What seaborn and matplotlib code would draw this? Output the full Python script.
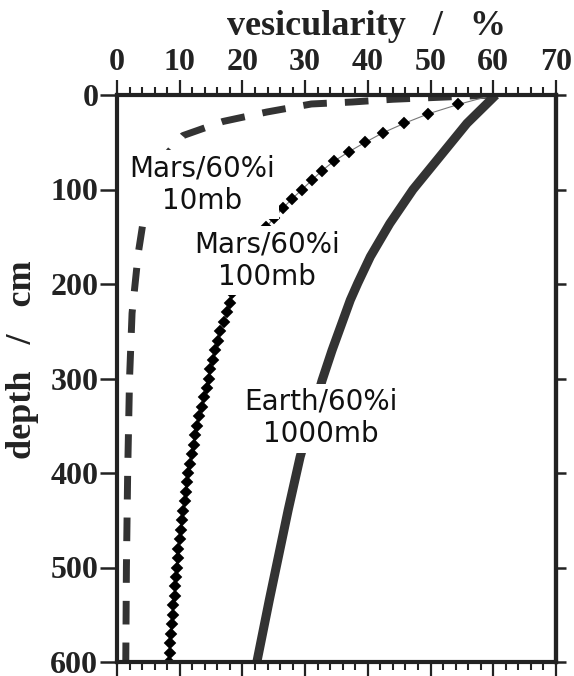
import matplotlib
matplotlib.use("Agg")
import matplotlib.pyplot as plt
import seaborn as sns
import pandas as pd
from matplotlib.ticker import MultipleLocator

# values: depth (cm) vs vesicularity (%)
depth_10mb = [0, 2.6, 4.5, 7.4, 9.5, 18, 28, 43, 70, 120, 167, 231, 300, 400, 500, 600]
vesic_10mb = [60, 50.7, 44, 37.5, 31, 23.9, 16.9, 10.5, 7.0, 4.5, 3.4, 2.4, 2.0, 1.7, 1.5, 1.4]

depth_100mb = [0, 10, 20, 30, 40, 50, 60, 70, 80, 90,
               100, 110, 120, 130, 140, 150, 160, 170, 180, 190,
               200, 210, 220, 230, 240, 250, 260, 270, 280, 290,
               300, 310, 320, 330, 340, 350, 360, 370, 380, 390,
               400, 410, 420, 430, 440, 450, 460, 470, 480, 490,
               500, 510, 520, 530, 540, 550, 560, 570, 580, 590, 600]
vesic_100mb = [60, 54.4, 49.6, 45.8, 42.4, 39.6, 37.0, 34.6, 32.7, 31.1,
               29.5, 27.9, 26.4, 25.0, 23.8, 22.7, 21.7, 20.9, 20.1, 19.4,
               18.8, 18.4, 18.0, 17.5, 17.0, 16.5, 16.1, 15.7, 15.3, 14.9,
               14.6, 14.3, 13.9, 13.5, 13.1, 12.8, 12.5, 12.2, 11.9, 11.7,
               11.4, 11.2, 11.0, 10.8, 10.6, 10.4, 10.2, 10.0, 9.8, 9.7,
               9.5, 9.4, 9.3, 9.2, 9.0, 8.9, 8.8, 8.6, 8.5, 8.4, 8.3]

depth_1000mb = [0, 30, 65, 100, 136, 171, 199, 217, 270, 302, 383, 439, 534, 600]
vesic_1000mb = [60.4, 55.8, 51.5, 47.2, 43.5, 40.4, 38.4, 37.2, 34.3, 32.7, 29.2, 27.3, 24.3, 22.3]

labels = ["Mars/60%i\n10mb", "Mars/60%i\n100mb", "Earth/60%i\n1000mb"]
label_x = [13.6, 23.9, 32.5]
label_y = [95, 175, 342]

sns.set_style("white")
serif = ["Liberation Serif", "DejaVu Serif"]
dark = "#222222"

fig = plt.figure(figsize=(5.74, 6.76), dpi=100)
ax = fig.add_axes([117 / 574, 1 - 662 / 676, (556 - 117) / 574, (662 - 95) / 676])

df10 = pd.DataFrame({"v": vesic_10mb, "d": depth_10mb})
df100 = pd.DataFrame({"v": vesic_100mb, "d": depth_100mb})
df1000 = pd.DataFrame({"v": vesic_1000mb, "d": depth_1000mb})

sns.lineplot(data=df10, x="v", y="d", sort=False, estimator=None, ax=ax,
             color="#333333", lw=5, linestyle=(0, (3.4, 2.6)), solid_capstyle="butt")
sns.lineplot(data=df100, x="v", y="d", sort=False, estimator=None, ax=ax,
             color="#777777", lw=0.8, marker="D", markersize=6.5,
             markerfacecolor="black", markeredgecolor="black", markeredgewidth=0.3)
sns.lineplot(data=df1000, x="v", y="d", sort=False, estimator=None, ax=ax,
             color="#333333", lw=6.5, solid_capstyle="butt")

for txt, x, y in zip(labels, label_x, label_y):
    ax.text(x, y, txt, ha="center", va="center", multialignment="center",
            fontsize=20, family="DejaVu Sans", color="#111111", zorder=5,
            bbox=dict(facecolor="white", edgecolor="none", pad=3))

ax.set_xlim(0, 70)
ax.set_ylim(600, 0)
ax.set_xlabel("")
ax.set_ylabel("")

ax.xaxis.set_major_locator(MultipleLocator(10))
ax.xaxis.set_minor_locator(MultipleLocator(2))
ax.yaxis.set_major_locator(MultipleLocator(100))
ax.tick_params(axis="x", which="both", top=True, bottom=True, labeltop=True,
               labelbottom=False, direction="out", color=dark)
ax.tick_params(axis="x", which="major", length=11, width=1.6, pad=2)
ax.tick_params(axis="x", which="minor", length=5.5, width=1.5)
ax.tick_params(axis="y", which="major", left=True, right=False, direction="out",
               length=12, width=1.8, pad=1.5, color=dark)
for lab in ax.get_xticklabels() + ax.get_yticklabels():
    lab.set_family(serif)
    lab.set_fontweight("bold")
    lab.set_fontsize(23)
    lab.set_color(dark)

sec = ax.secondary_yaxis("right")
sec.yaxis.set_major_locator(MultipleLocator(100))
sec.tick_params(axis="y", direction="out", length=7, width=1.8, labelright=False, color=dark)
sec.spines["right"].set_linewidth(3)
sec.spines["right"].set_color(dark)

for s in ax.spines.values():
    s.set_visible(True)
    s.set_linewidth(3)
    s.set_color(dark)

fig.text(227 / 574, 1 - 35 / 676, "vesicularity   /   %", ha="left", va="baseline",
         fontsize=26, fontweight="bold", family=serif, color=dark)
fig.text(23 / 574, 1 - 360 / 676, "depth   /   cm", ha="center", va="center",
         rotation=90, fontsize=26, fontweight="bold", family=serif, color=dark)

fig.savefig("out.png", dpi=100)
